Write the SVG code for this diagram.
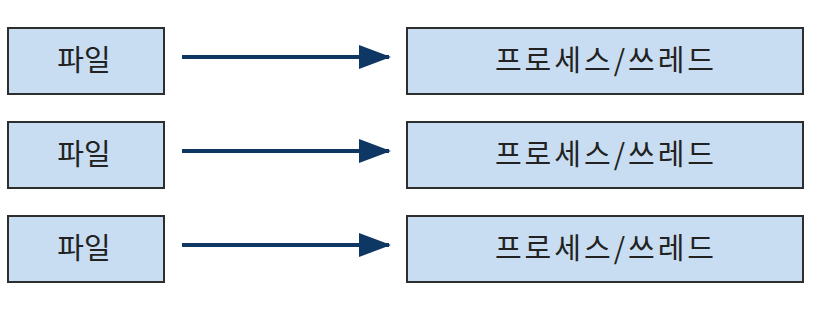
<svg xmlns="http://www.w3.org/2000/svg" width="822" height="310" viewBox="0 0 822 310">
<style>
.box{fill:#c8ddf1;stroke:#2e2e2e;stroke-width:2}
.t{font-family:"Noto Sans CJK KR","Noto Sans",sans-serif;font-size:29px;fill:#222222;text-anchor:middle;dominant-baseline:central}
.w{letter-spacing:3px}
.c{stroke:#0f3763;stroke-width:4;fill:none;marker-end:url(#ah)}
</style>
<defs>
<marker id="ah" markerWidth="8" markerHeight="6" refX="7.5" refY="3" orient="auto" markerUnits="strokeWidth" viewBox="0 0 8 6">
<path d="M0,0 L8,3 L0,6 Z" fill="#0f3763"/>
</marker>
</defs>
<g id="connectors">
<line class="c" x1="182" y1="57" x2="389" y2="57"/>
<line class="c" x1="182" y1="151" x2="389" y2="151"/>
<line class="c" x1="182" y1="245" x2="389" y2="245"/>
</g>
<g id="file1"><rect class="box" x="8" y="28" width="156" height="66"/><text class="t" x="84" y="58">파일</text></g>
<g id="file2"><rect class="box" x="8" y="122" width="156" height="66"/><text class="t" x="84" y="152">파일</text></g>
<g id="file3"><rect class="box" x="8" y="216" width="156" height="66"/><text class="t" x="84" y="246">파일</text></g>
<g id="proc1"><rect class="box" x="407" y="28" width="396" height="66"/><text class="t w" x="606" y="58">프로세스/쓰레드</text></g>
<g id="proc2"><rect class="box" x="407" y="122" width="396" height="66"/><text class="t w" x="606" y="152">프로세스/쓰레드</text></g>
<g id="proc3"><rect class="box" x="407" y="216" width="396" height="66"/><text class="t w" x="606" y="246">프로세스/쓰레드</text></g>
</svg>
